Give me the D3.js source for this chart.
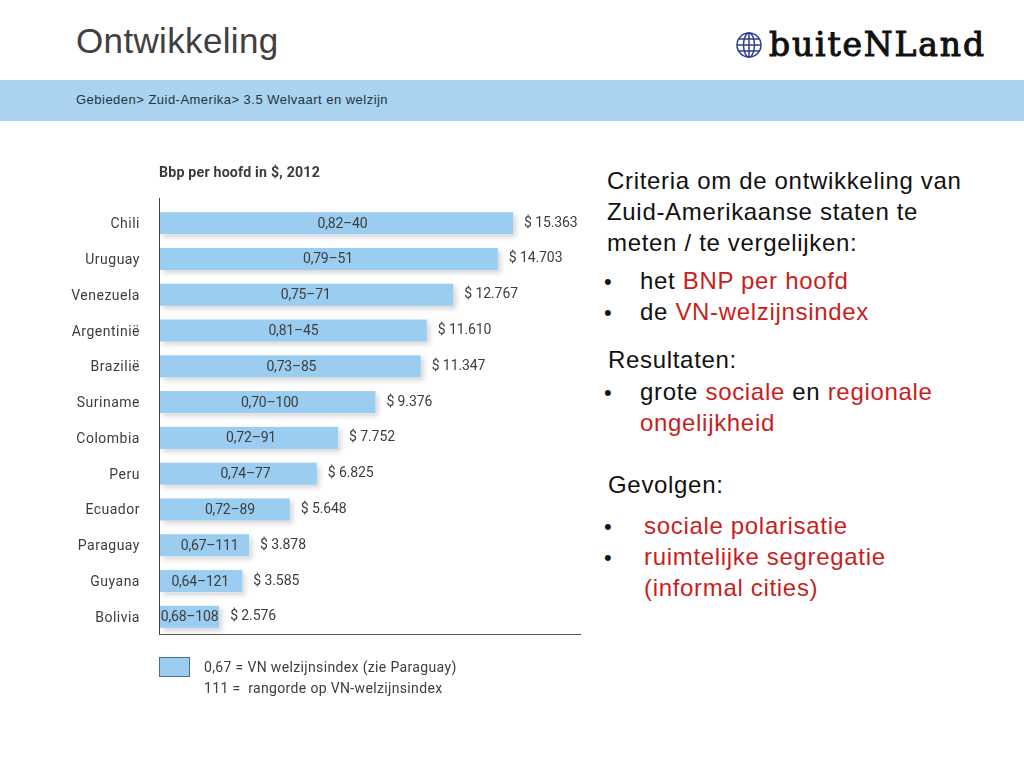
<!DOCTYPE html>
<html><head><meta charset="utf-8">
<script src="https://cdn.jsdelivr.net/npm/d3@7"></script>
<style>html,body{margin:0;padding:0;background:#fff}svg{display:block}</style></head>
<body><svg id="c" width="1024" height="768"></svg>
<script>
const countries=["Chili","Uruguay","Venezuela","Argentinië","Brazilië","Suriname","Colombia","Peru","Ecuador","Paraguay","Guyana","Bolivia"];
const gdp=[15363,14703,12767,11610,11347,9376,7752,6825,5648,3878,3585,2576];
const gdpLabels=["$ 15.363","$ 14.703","$ 12.767","$ 11.610","$ 11.347","$ 9.376","$ 7.752","$ 6.825","$ 5.648","$ 3.878","$ 3.585","$ 2.576"];
const indexLabels=["0,82–40","0,79–51","0,75–71","0,81–45","0,73–85","0,70–100","0,72–91","0,74–77","0,72–89","0,67–111","0,64–121","0,68–108"];
const legendLines=["0,67 = VN welzijnsindex (zie Paraguay)","111 =  rangorde op VN-welzijnsindex"];
const textBlocks=[
 {x:607,y:189,parts:[["Criteria om de ontwikkeling van"]]},
 {x:607,y:220,parts:[["Zuid-Amerikaanse staten te"]]},
 {x:607,y:251,parts:[["meten / te vergelijken:"]]},
 {x:604,y:289,bullet:1,x2:640,parts:[["het "],["BNP per hoofd",1]]},
 {x:604,y:320,bullet:1,x2:640,parts:[["de "],["VN-welzijnsindex",1]]},
 {x:608,y:368,parts:[["Resultaten:"]]},
 {x:604,y:400,bullet:1,x2:640,parts:[["grote "],["sociale",1],[" en "],["regionale",1]]},
 {x:640,y:431,parts:[["ongelijkheid",1]]},
 {x:608,y:493,parts:[["Gevolgen:"]]},
 {x:604,y:534,bullet:1,x2:644,parts:[["sociale polarisatie",1]]},
 {x:604,y:565,bullet:1,x2:644,parts:[["ruimtelijke segregatie",1]]},
 {x:644,y:596,parts:[["(informal cities)",1]]}
];
const svg=d3.select("#c");
const sans="'Liberation Sans',Arial,sans-serif", din="Roboto,sans-serif";
const defs=svg.append("defs");
const f=defs.append("filter").attr("id","sh").attr("x","-5%").attr("y","-30%").attr("width","115%").attr("height","170%");
f.append("feDropShadow").attr("dx",3).attr("dy",3).attr("stdDeviation",2.4).attr("flood-color","#000").attr("flood-opacity",.16);
const soft=defs.append("filter").attr("id","soft").attr("x","-5%").attr("y","-5%").attr("width","110%").attr("height","110%");
soft.append("feGaussianBlur").attr("stdDeviation",.42);

svg.append("text").attr("x",76).attr("y",53).attr("font-family",sans).attr("font-size",35).attr("letter-spacing",.35).attr("fill","#404040").text("Ontwikkeling");
svg.append("rect").attr("x",0).attr("y",80).attr("width",1024).attr("height",41).attr("fill","#a9d3ee");
svg.append("text").attr("x",76).attr("y",104).attr("font-family",sans).attr("font-size",13).attr("letter-spacing",.48).attr("fill","#1f3444").text("Gebieden> Zuid-Amerika> 3.5 Welvaart en welzijn");

// logo
const logo=svg.append("g").attr("transform","translate(749,45)").attr("fill","none").attr("stroke","#2f3e8f").attr("stroke-width",1.5);
logo.append("circle").attr("r",12);
logo.append("ellipse").attr("rx",5.5).attr("ry",12);
logo.append("line").attr("x1",0).attr("x2",0).attr("y1",-12).attr("y2",12);
[-6,0,6].forEach(d=>logo.append("line").attr("x1",-Math.sqrt(144-d*d)).attr("x2",Math.sqrt(144-d*d)).attr("y1",d).attr("y2",d));
svg.append("text").attr("x",769).attr("y",56).attr("font-family","'DejaVu Serif',serif").attr("font-size",33).attr("textLength",215).attr("lengthAdjust","spacing").attr("fill","#111").attr("stroke","#111").attr("stroke-width",1).text("buiteNLand");

// chart
const chart=svg.append("g").attr("filter","url(#soft)");
const x=d3.scaleLinear().domain([0,15363]).range([160,513]);
const y=d3.scaleBand().domain(countries).range([205,635]).paddingInner(.385).paddingOuter(.2);
chart.append("text").attr("x",159).attr("y",177).attr("font-family",din).attr("font-weight",700).attr("font-size",14.2).attr("letter-spacing",.2).attr("fill","#3a3a3a").text("Bbp per hoofd in $, 2012");
chart.selectAll("rect.bar").data(countries).join("rect").attr("class","bar")
 .attr("x",x(0)).attr("y",d=>y(d)).attr("width",(d,i)=>x(gdp[i])-x(0)).attr("height",y.bandwidth())
 .attr("fill","#9bcdf1").attr("filter","url(#sh)");
const t=(sel)=>sel.attr("font-family",din).attr("font-size",14).attr("fill","#3d3d3d").attr("letter-spacing",.5);
chart.selectAll("text.cat").data(countries).join("text").attr("class","cat").call(t)
 .attr("x",140).attr("y",d=>y(d)+y.bandwidth()/2+5).attr("text-anchor","end").text(d=>d);
const idxNudge=[6,-1,-1,0,1,2,2,7,5,5,-1,0];
chart.selectAll("text.idx").data(countries).join("text").attr("class","idx").call(t)
 .attr("letter-spacing",-.2)
 .attr("x",(d,i)=>(x(0)+x(gdp[i]))/2+idxNudge[i]).attr("y",d=>y(d)+y.bandwidth()/2+4.5).attr("text-anchor","middle").text((d,i)=>indexLabels[i]);
chart.selectAll("text.val").data(countries).join("text").attr("class","val").call(t)
 .attr("letter-spacing",-.1)
 .attr("x",(d,i)=>x(gdp[i])+11).attr("y",d=>y(d)+y.bandwidth()/2+3.5).text((d,i)=>gdpLabels[i]);
chart.append("line").attr("x1",159.5).attr("x2",159.5).attr("y1",198).attr("y2",634).attr("stroke","#444");
chart.append("line").attr("x1",159).attr("x2",581).attr("y1",634.5).attr("y2",634.5).attr("stroke","#555");
chart.append("rect").attr("x",159.5).attr("y",657.5).attr("width",30).attr("height",19).attr("fill","#9bcdf1").attr("stroke","#4d6f8a");
chart.selectAll("text.leg").data(legendLines).join("text").attr("class","leg").call(t)
 .attr("letter-spacing",.35).attr("x",204).attr("y",(d,i)=>672+i*21).style("white-space","pre").text(d=>d);

// right text
textBlocks.forEach(b=>{
 if(b.bullet) svg.append("text").attr("x",b.x).attr("y",b.y).attr("font-family",sans).attr("font-size",22).attr("fill","#111").text("•");
 const tx=svg.append("text").attr("x",b.x2||b.x).attr("y",b.y).attr("font-family",sans).attr("font-size",24).attr("letter-spacing",.68).style("white-space","pre");
 b.parts.forEach(p=>tx.append("tspan").attr("fill",p[1]?"#c81e1e":"#111").text(p[0]));
});
</script></body></html>
